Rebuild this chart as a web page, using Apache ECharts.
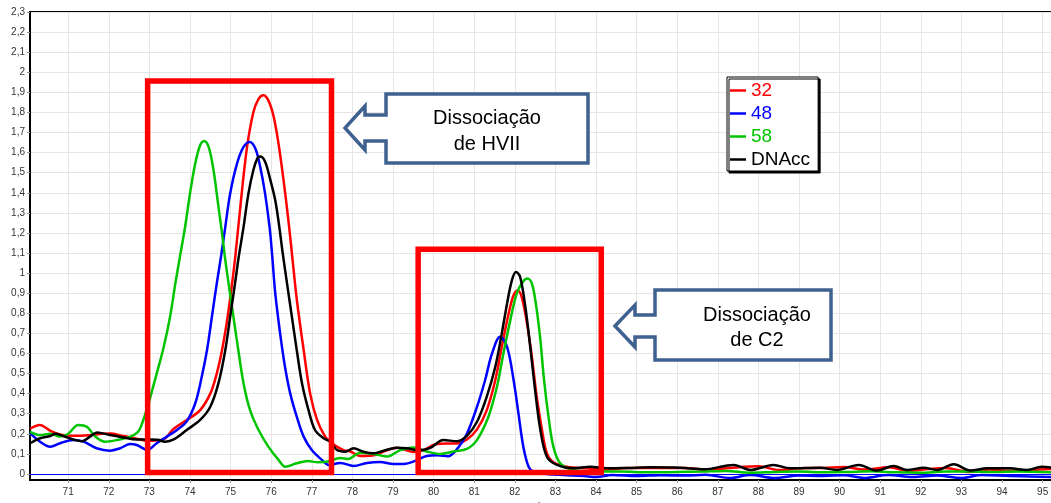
<!DOCTYPE html>
<html>
<head>
<meta charset="utf-8">
<script src="https://cdn.jsdelivr.net/npm/echarts@6/dist/echarts.min.js"></script>
<style>
  html, body { margin: 0; padding: 0; background: #ffffff; }
  #chart { width: 1051px; height: 503px; }
</style>
</head>
<body>
<div id="chart"></div>
<script>
// Melting-curve traces (temperature in ºC, signal)
const seriesNames = ['32', '48', '58', 'DNAcc'];
const seriesColors = ['#ff0000', '#0000ff', '#00c400', '#000000'];

const temp32 = [70.06, 70.3, 70.56, 70.82, 71.15, 71.5, 71.85, 72.05, 72.3, 72.5, 72.77, 72.95, 73.15, 73.35, 73.6, 73.92,
  74.25, 74.5, 74.66, 74.79, 74.91, 75.02, 75.12, 75.24, 75.4, 75.56, 75.69, 75.81, 75.93, 76.06, 76.18, 76.3, 76.42, 76.52,
  76.63, 76.8, 76.96, 77.13, 77.33, 77.53, 77.78, 77.95, 78.19, 78.5, 78.85, 79.1, 79.5, 79.75, 80.05, 80.33, 80.57, 80.82,
  81.07, 81.31, 81.52, 81.68, 81.85, 81.97, 82.07, 82.17, 82.3, 82.42, 82.54, 82.67, 82.79, 82.95, 83.28, 83.77,
  84.2, 84.8, 85.5, 86.2, 86.7, 87.3, 88.0, 88.5, 89.0, 89.6, 90.1, 90.6, 91.2, 91.7, 92.2, 92.6, 93.2, 93.7, 94.2, 94.7, 95.3];
const val32 = [0.225, 0.244, 0.215, 0.196, 0.19, 0.193, 0.2, 0.202, 0.192, 0.183, 0.172, 0.165, 0.167, 0.172, 0.225, 0.268,
  0.318, 0.4, 0.5, 0.617, 0.76, 0.92, 1.09, 1.33, 1.62, 1.8, 1.868, 1.886, 1.86, 1.78, 1.645, 1.47, 1.27, 1.08,
  0.87, 0.617, 0.4, 0.269, 0.186, 0.148, 0.119, 0.112, 0.09, 0.092, 0.118, 0.13, 0.11, 0.118, 0.148, 0.152, 0.152, 0.172,
  0.222, 0.318, 0.468, 0.633, 0.8, 0.89, 0.912, 0.882, 0.75, 0.584, 0.385, 0.219, 0.103, 0.058, 0.036, 0.028,
  0.022, 0.03, 0.03, 0.03, 0.022, 0.03, 0.038, 0.02, 0.028, 0.03, 0.035, 0.022, 0.033, 0.015, 0.025, 0.03, 0.01, 0.022, 0.016, 0.02, 0.025];

const temp48 = [70.06, 70.31, 70.56, 70.8, 71.13, 71.38, 71.7, 72.03, 72.28, 72.53, 72.69, 72.95, 73.18, 73.43, 73.68, 73.92,
  74.13, 74.29, 74.42, 74.54, 74.66, 74.77, 74.87, 74.99, 75.16, 75.32, 75.47, 75.61, 75.73, 75.85, 75.96, 76.02,
  76.1, 76.22, 76.34, 76.47, 76.63, 76.8, 77.0, 77.25, 77.42, 77.7, 78.03, 78.36, 78.68, 79.01, 79.26, 79.55, 79.83,
  80.1, 80.35, 80.6, 80.82, 81.07, 81.27, 81.44, 81.64, 81.81, 81.97, 82.09, 82.21, 82.34, 82.46, 82.8, 83.2, 83.7,
  84.0, 84.4, 85.0, 85.6, 86.2, 86.7, 87.3, 87.8, 88.4, 89.0, 89.6, 90.1, 90.6, 91.2, 91.8, 92.4, 93.0, 93.5, 94.2, 94.7, 95.3];
const val48 = [0.205, 0.16, 0.135, 0.153, 0.169, 0.161, 0.128, 0.116, 0.128, 0.149, 0.144, 0.12, 0.153, 0.186, 0.219, 0.262,
  0.352, 0.484, 0.617, 0.783, 0.949, 1.09, 1.23, 1.396, 1.546, 1.628, 1.653, 1.62, 1.529, 1.396, 1.23, 1.1,
  0.9, 0.7, 0.534, 0.4, 0.285, 0.186, 0.119, 0.07, 0.045, 0.055, 0.04, 0.055, 0.06, 0.05, 0.05, 0.065, 0.09,
  0.093, 0.088, 0.13, 0.2, 0.335, 0.468, 0.6, 0.683, 0.633, 0.468, 0.302, 0.136, 0.036, 0.012, 0.0, -0.005, -0.01,
  -0.015, -0.005, -0.01, -0.006, -0.008, -0.004, -0.02, -0.005, -0.02, -0.008, -0.01, -0.006, -0.02, -0.005, -0.015, -0.008, -0.02, -0.005, -0.01, -0.012, -0.016];

const temp58 = [70.06, 70.31, 70.56, 70.8, 71.0, 71.25, 71.46, 71.67, 71.91, 72.2, 72.53, 72.72, 72.8, 72.95, 73.14, 73.35,
  73.51, 73.64, 73.76, 73.88, 74.0, 74.13, 74.25, 74.35, 74.46, 74.58, 74.68, 74.79, 74.86, 74.95, 75.07, 75.19,
  75.32, 75.48, 75.69, 75.93, 76.18, 76.35, 76.63, 76.9, 77.15, 77.4, 77.7, 77.9, 78.19, 78.52, 78.85, 79.18, 79.5,
  79.83, 80.16, 80.49, 80.82, 81.07, 81.35, 81.56, 81.72, 81.89, 82.05, 82.2, 82.31, 82.42, 82.53, 82.63, 82.72,
  82.83, 82.95, 83.12, 83.45, 84.0, 84.6, 85.3, 86.0, 86.6, 87.2, 87.8, 88.4, 89.0, 89.6, 90.2, 90.8, 91.4, 92.0,
  92.6, 93.2, 93.8, 94.4, 95.3];
const val58 = [0.21, 0.194, 0.2, 0.186, 0.2, 0.244, 0.235, 0.186, 0.161, 0.169, 0.186, 0.21, 0.24, 0.33, 0.47, 0.63,
  0.783, 0.949, 1.09, 1.23, 1.396, 1.546, 1.637, 1.658, 1.628, 1.512, 1.363, 1.197, 1.08, 0.949, 0.783, 0.617,
  0.451, 0.318, 0.219, 0.136, 0.07, 0.036, 0.053, 0.065, 0.058, 0.062, 0.08, 0.075, 0.106, 0.1, 0.087, 0.119, 0.132,
  0.112, 0.1, 0.112, 0.125, 0.17, 0.285, 0.434, 0.6, 0.766, 0.9, 0.957, 0.973, 0.949, 0.832, 0.667, 0.468,
  0.285, 0.136, 0.053, 0.02, 0.012, 0.012, 0.008, 0.01, 0.012, 0.015, 0.006, 0.01, 0.012, 0.008, 0.01, 0.013, 0.008, 0.006,
  0.012, 0.012, 0.01, 0.012, 0.008];

const tempCc = [70.06, 70.31, 70.56, 70.68, 70.88, 71.13, 71.34, 71.54, 71.71, 72.03, 72.36, 72.69, 73.0, 73.2, 73.39, 73.6,
  73.92, 74.25, 74.5, 74.7, 74.87, 74.99, 75.11, 75.2, 75.32, 75.44, 75.56, 75.66, 75.73, 75.85, 75.98, 76.1, 76.2,
  76.28, 76.39, 76.51, 76.63, 76.76, 76.92, 77.08, 77.29, 77.45, 77.62, 77.82, 78.03, 78.27, 78.52, 78.77, 79.1, 79.34,
  79.62, 79.92, 80.24, 80.57, 80.82, 81.07, 81.31, 81.52, 81.68, 81.81, 81.93, 82.03, 82.13, 82.26, 82.38, 82.5, 82.63,
  82.79, 83.04, 83.45, 83.86, 84.27, 84.8, 85.33, 86.07, 86.65, 87.39, 87.8, 88.37, 88.78, 89.52, 89.93, 90.47, 90.92,
  91.33, 91.66, 92.07, 92.4, 92.81, 93.22, 93.63, 94.2, 94.61, 94.98, 95.3];
const valCc = [0.153, 0.178, 0.189, 0.2, 0.189, 0.172, 0.163, 0.186, 0.207, 0.194, 0.182, 0.172, 0.172, 0.17, 0.161, 0.172,
  0.219, 0.269, 0.335, 0.451, 0.617, 0.783, 0.949, 1.08, 1.23, 1.396, 1.512, 1.571, 1.58, 1.554, 1.463, 1.363, 1.23,
  1.105, 0.949, 0.783, 0.617, 0.451, 0.318, 0.219, 0.178, 0.161, 0.119, 0.111, 0.128, 0.111, 0.103, 0.116, 0.13, 0.128,
  0.118, 0.13, 0.169, 0.163, 0.19, 0.26, 0.385, 0.534, 0.7, 0.849, 0.965, 1.005, 0.982, 0.832, 0.633, 0.418, 0.219,
  0.086, 0.045, 0.028, 0.036, 0.028, 0.03, 0.033, 0.031, 0.023, 0.045, 0.02, 0.045, 0.028, 0.031, 0.02, 0.045, 0.017,
  0.04, 0.02, 0.031, 0.02, 0.048, 0.017, 0.028, 0.028, 0.02, 0.036, 0.03];

// Highlighted temperature windows (ºC range, signal range)
const hviiWindow = [72.957, 77.485, 0.0075, 1.957];
const c2Window = [79.62, 84.13, 0.0075, 1.119];

const zip = (xs, ys) => xs.map((x, i) => [x, ys[i]]);
const traces = [zip(temp32, val32), zip(temp48, val48), zip(temp58, val58), zip(tempCc, valCc)];

const FONT = '"Liberation Sans", Arial, sans-serif';
const BOX_BLUE = '#3f6190';

function fmtY(v) {
  if (v < 0) return '';
  const r = Math.round(v * 10) / 10;
  return Number.isInteger(r) ? String(r) : r.toFixed(1).replace('.', ',');
}

function windowArea(w) {
  return [{ coord: [w[0], w[3]] }, { coord: [w[1], w[2]] }];
}

const chart = echarts.init(document.getElementById('chart'), null, { renderer: 'canvas' });

const series = seriesNames.map((name, i) => ({
  name: name,
  type: 'line',
  data: traces[i],
  smooth: 0.35,
  symbol: 'none',
  lineStyle: { color: seriesColors[i], width: 2.5 },
  itemStyle: { color: seriesColors[i] },
  z: 2 + i
}));

// baseline at zero
series[1].markLine = {
  silent: true,
  symbol: 'none',
  z: 1,
  label: { show: false },
  lineStyle: { color: '#0000ff', width: 1, type: 'solid' },
  data: [{ yAxis: 0 }]
};

// red frames around the two dissociation windows
series.push({
  name: 'windows',
  type: 'line',
  data: [],
  silent: true,
  markArea: {
    silent: true,
    z: 20,
    itemStyle: { color: 'rgba(0,0,0,0)', borderColor: '#ff0000', borderWidth: 5.5 },
    label: { show: false },
    data: [windowArea(hviiWindow), windowArea(c2Window)]
  }
});

function callout(left, right, top, bottom, cy, tipX, baseX, stemH, headH) {
  return [
    [left, top], [right, top], [right, bottom], [left, bottom],
    [left, cy + stemH], [baseX, cy + stemH], [baseX, cy + headH], [tipX, cy],
    [baseX, cy - headH], [baseX, cy - stemH], [left, cy - stemH]
  ];
}

const option = {
  animation: false,
  backgroundColor: '#ffffff',
  grid: {
    left: 30, right: -3, top: 12, bottom: 23,
    outerBoundsMode: 'none',
    containLabel: false,
    show: true, borderColor: '#000000', borderWidth: 2, backgroundColor: 'transparent'
  },
  xAxis: {
    type: 'value',
    min: 70.06,
    max: 95.28,
    splitNumber: 25,
    minInterval: 1,
    maxInterval: 1,
    name: 'ºC',
    nameLocation: 'middle',
    nameGap: 18,
    nameTextStyle: { fontSize: 8, color: '#333333', fontFamily: FONT },
    axisLine: { show: true, onZero: false, lineStyle: { color: '#000000', width: 2 } },
    axisTick: { show: true, length: 3, lineStyle: { color: '#999999' } },
    axisLabel: {
      show: true, showMinLabel: false, showMaxLabel: false, margin: 7,
      fontSize: 10, color: '#333333', fontFamily: FONT,
      formatter: v => String(Math.round(v))
    },
    splitLine: { show: true, lineStyle: { color: '#e6e6e6', width: 1 } }
  },
  yAxis: {
    type: 'value',
    min: -0.03,
    max: 2.3,
    splitNumber: 23,
    minInterval: 0.1,
    maxInterval: 0.1,
    axisLine: { show: true, onZero: false, lineStyle: { color: '#000000', width: 2 } },
    axisTick: { show: true, length: 3, lineStyle: { color: '#999999' } },
    axisLabel: {
      show: true, showMinLabel: false, margin: 5,
      fontSize: 10, color: '#333333', fontFamily: FONT,
      formatter: fmtY
    },
    splitLine: { show: true, lineStyle: { color: '#e6e6e6', width: 1 } }
  },
  legend: {
    orient: 'vertical',
    left: 727, top: 77,
    data: seriesNames.map((n, i) => ({ name: n, textStyle: { color: seriesColors[i] } })),
    icon: 'rect',
    itemWidth: 16, itemHeight: 2.5, itemGap: 4,
    selectedMode: false,
    textStyle: { fontSize: 19, fontFamily: FONT, lineHeight: 18 },
    backgroundColor: '#ffffff',
    borderColor: '#000000', borderWidth: 1, borderRadius: 0,
    padding: [4, 8, 2, 3],
    shadowColor: '#000000', shadowBlur: 0, shadowOffsetX: 2, shadowOffsetY: 2
  },
  graphic: [
    {
      type: 'polygon', z: 100,
      shape: { points: callout(386, 588, 94, 163, 128, 345, 365, 13, 22) },
      style: { fill: '#ffffff', stroke: BOX_BLUE, lineWidth: 3.5, lineJoin: 'miter' }
    },
    {
      type: 'text', z: 101, x: 487, y: 131,
      style: {
        text: 'Dissociação\nde HVII', fill: '#000000', fontSize: 20, fontFamily: FONT,
        align: 'center', verticalAlign: 'middle', lineHeight: 26
      }
    },
    {
      type: 'polygon', z: 100,
      shape: { points: callout(655, 831, 290, 360, 326, 615, 635, 11, 21) },
      style: { fill: '#ffffff', stroke: BOX_BLUE, lineWidth: 3.5, lineJoin: 'miter' }
    },
    {
      type: 'text', z: 101, x: 757, y: 328,
      style: {
        text: 'Dissociação\nde C2', fill: '#000000', fontSize: 20, fontFamily: FONT,
        align: 'center', verticalAlign: 'middle', lineHeight: 25
      }
    }
  ],
  series: series
};

chart.setOption(option);
</script>
</body>
</html>
